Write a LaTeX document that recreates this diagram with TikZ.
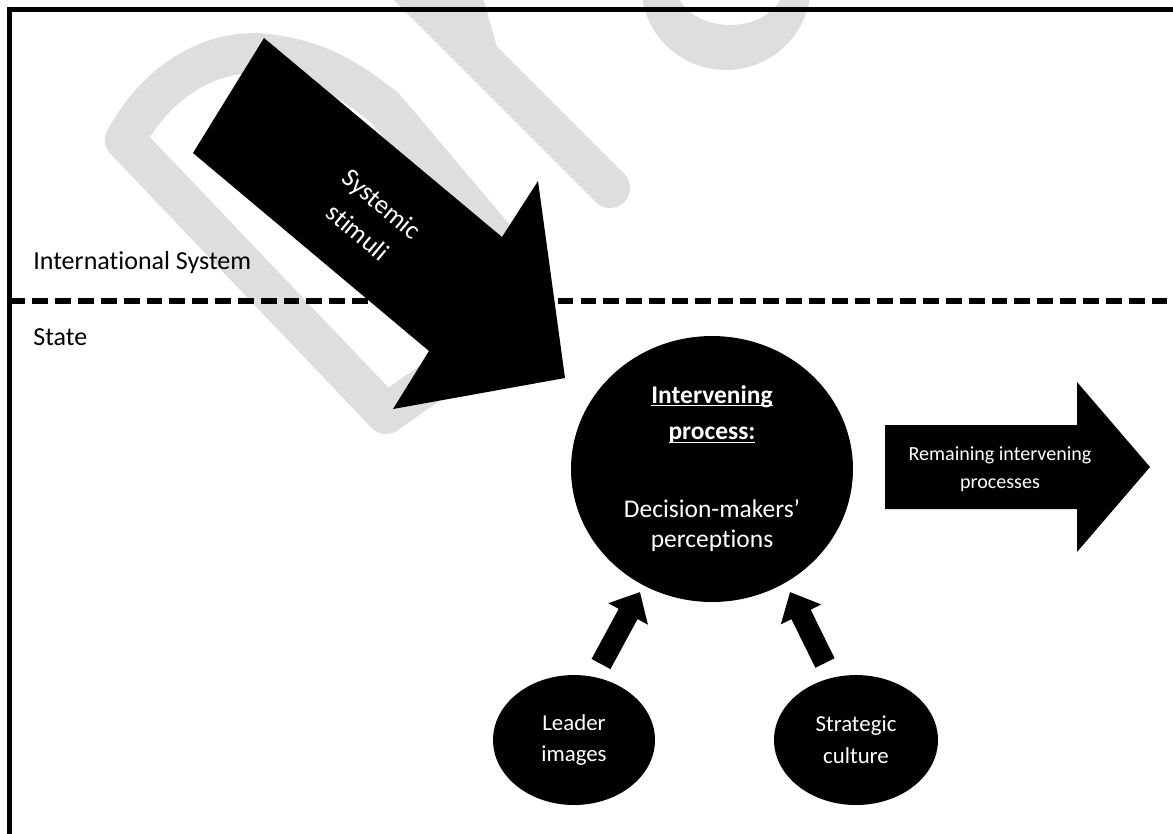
\documentclass[tikz,border=0pt]{standalone}
\usepackage{fontspec}
\setmainfont{Carlito}[Ligatures={TeX,NoCommon}]
\usetikzlibrary{arrows.meta, shapes.geometric}
\newcommand{\lineunder}[1]{\underline{\smash{\textbf{#1}}\vphantom{I}}}

\begin{document}
\begin{tikzpicture}[x=0.02cm, y=-0.02cm,
  wmark/.style={draw=black!13, line width=22.8pt, line join=round, line cap=round},
  bubble/.style={ellipse, fill=black, text=white, inner sep=0pt, align=center},
  push/.style={line width=12.2pt, -{Triangle[length=0.5cm, width=0.87cm]}}]
\useasboundingbox (0,0) rectangle (1173,833);
\clip (0,0) rectangle (1173,833);
% watermark
\draw[wmark] (386,414) -- (125,140) .. controls (160,75) and (220,45) .. (275,55)
	.. controls (320,62) and (350,80) .. (385,108) -- (520,268)
	.. controls (540,295) and (530,315) .. (505,330) -- cycle;
\draw[wmark] (400,-22) -- (610,188);
\fill[black!13] (420,-2) -- (483,-2) -- (497,47) -- (470,60) -- cycle;
\fill[black!13, even odd rule] (726,-15) ellipse [x radius=85, y radius=85]
	(730,-15) ellipse [x radius=54, y radius=40];
% frame and levels
\draw[line width=2.6pt] (9.5,845) -- (9.5,9.5) -- (1185,9.5);
\draw[line width=3.4pt, dash pattern=on 9pt off 4pt] (9.5,301) -- (1173,301);
\node[anchor=west, inner sep=0pt, font=\fontsize{14.8}{18}\selectfont] (intsys) at (33,263) {International System};
\node[anchor=west, inner sep=0pt, font=\fontsize{14.8}{18}\selectfont] (state) at (33,337) {State};
% systemic stimuli
\fill (264,38) -- (502,237) -- (538,181) -- (565,378) -- (393,409) -- (429,351) -- (193,153) -- cycle;
\node[rotate=-40, text=white, align=center, font=\fontsize{15}{21}\selectfont] (stimuli) at (370,218) {Systemic\\stimuli};
% intervening variables
\node[bubble, minimum width=5.64cm, minimum height=5.32cm, font=\fontsize{14.5}{17}\selectfont] (percept) at (712,469)
	{\lineunder{Intervening}\\[4pt]\lineunder{process:}\\[27pt]Decision-makers'\\perceptions};
\node[bubble, minimum width=3.24cm, minimum height=2.6cm, font=\fontsize{13}{18}\selectfont] (leader) at (574,740) {Leader\\images};
\node[bubble, minimum width=3.28cm, minimum height=2.6cm, font=\fontsize{13}{18}\selectfont] (culture) at (856,740) {Strategic\\culture};
\coordinate (leaderTail) at (601,664);
\coordinate (leaderTip) at (640,592);
\coordinate (cultureTail) at (825,663);
\coordinate (cultureTip) at (790,592);
\draw[push] (leaderTail) -- (leaderTip);
\draw[push] (cultureTail) -- (cultureTip);
% remaining
\fill (885,425) -- (1077,425) -- (1077,382) -- (1150,467) -- (1077,552) -- (1077,509) -- (885,509) -- cycle;
\node[text=white, align=center, font=\fontsize{11.4}{16}\selectfont] (remain) at (1000,469) {Remaining intervening\\processes};
\end{tikzpicture}
\end{document}
